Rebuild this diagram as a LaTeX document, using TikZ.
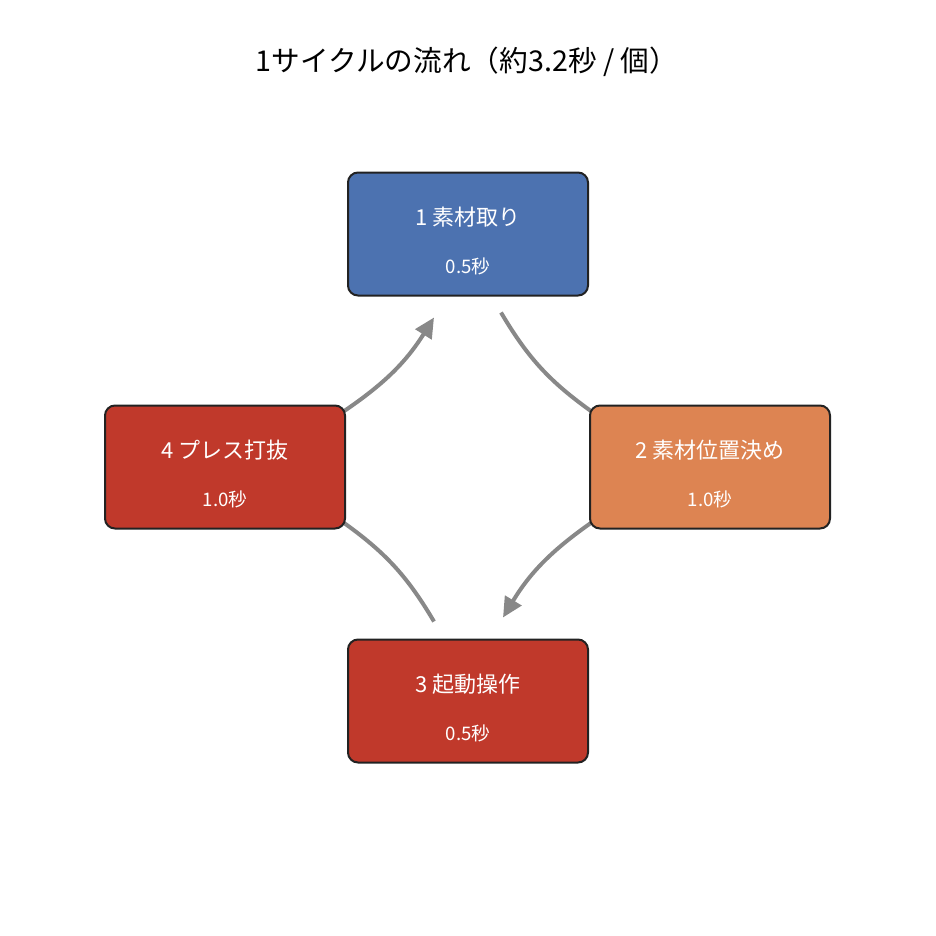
\documentclass[tikz,border=0pt]{standalone}
\usepackage{fontspec}
\setmainfont{Noto Sans CJK JP}
\usepackage{tikz}
\usetikzlibrary{arrows.meta,positioning,calc,backgrounds}
\usepackage{xcolor}
\definecolor{pickblue}{RGB}{76,114,176}
\definecolor{placeorange}{RGB}{221,132,82}
\definecolor{pressred}{RGB}{192,57,43}
\definecolor{flowgray}{RGB}{136,136,136}
\definecolor{edgeblack}{RGB}{34,34,34}
\newcommand{\steptext}[2]{{\fontsize{16.5}{18}\selectfont\rule{0pt}{25pt}#1}\\[20pt]{\fontsize{14}{16}\selectfont #2}}

\begin{document}
\begin{tikzpicture}[x=0.75pt, y=-0.75pt,
    stepbox/.style={draw=edgeblack, line width=1.5pt, rounded corners=7.5pt, fill=#1, minimum width=180pt, minimum height=92.25pt, align=center, text=white, font=\fontsize{14}{16}\selectfont, inner sep=0pt},
    flow/.style={-{Triangle[length=15pt,width=14pt]}, line width=3pt, draw=flowgray},
    flowline/.style={line width=3pt, draw=flowgray}
]
\useasboundingbox (0,0) rectangle (936,936);
\node[font=\fontsize{21.5}{24}\selectfont] (title) at (467,62) {1サイクルの流れ（約3.2秒 / 個）};

\node[stepbox=pickblue] (pick) at (468,234) {\steptext{1 素材取り}{0.5秒}};
\node[stepbox=placeorange] (place) at (710,467) {\steptext{2 素材位置決め}{1.0秒}};
\node[stepbox=pressred] (start) at (468,701) {\steptext{3 起動操作}{0.5秒}};
\node[stepbox=pressred] (punch) at (225,467) {\steptext{4 プレス打抜}{1.0秒}};

% cycle arrows, under the boxes
\begin{scope}[on background layer]
\draw[flowline] ($(pick.south)+(33,16)$) to[bend right=12] ($(place.north west)+(4,8)$);
\draw[flow] ($(place.south west)+(4,-8)$) to[bend right=12] ($(start.north)+(35,-21)$);
\draw[flowline] ($(start.north)+(-34,-17)$) to[bend right=12] ($(punch.south east)+(-4,-8)$);
\draw[flow] ($(punch.north east)+(-4,8)$) to[bend right=12] ($(pick.south)+(-34,21)$);
\end{scope}
\end{tikzpicture}
\end{document}
